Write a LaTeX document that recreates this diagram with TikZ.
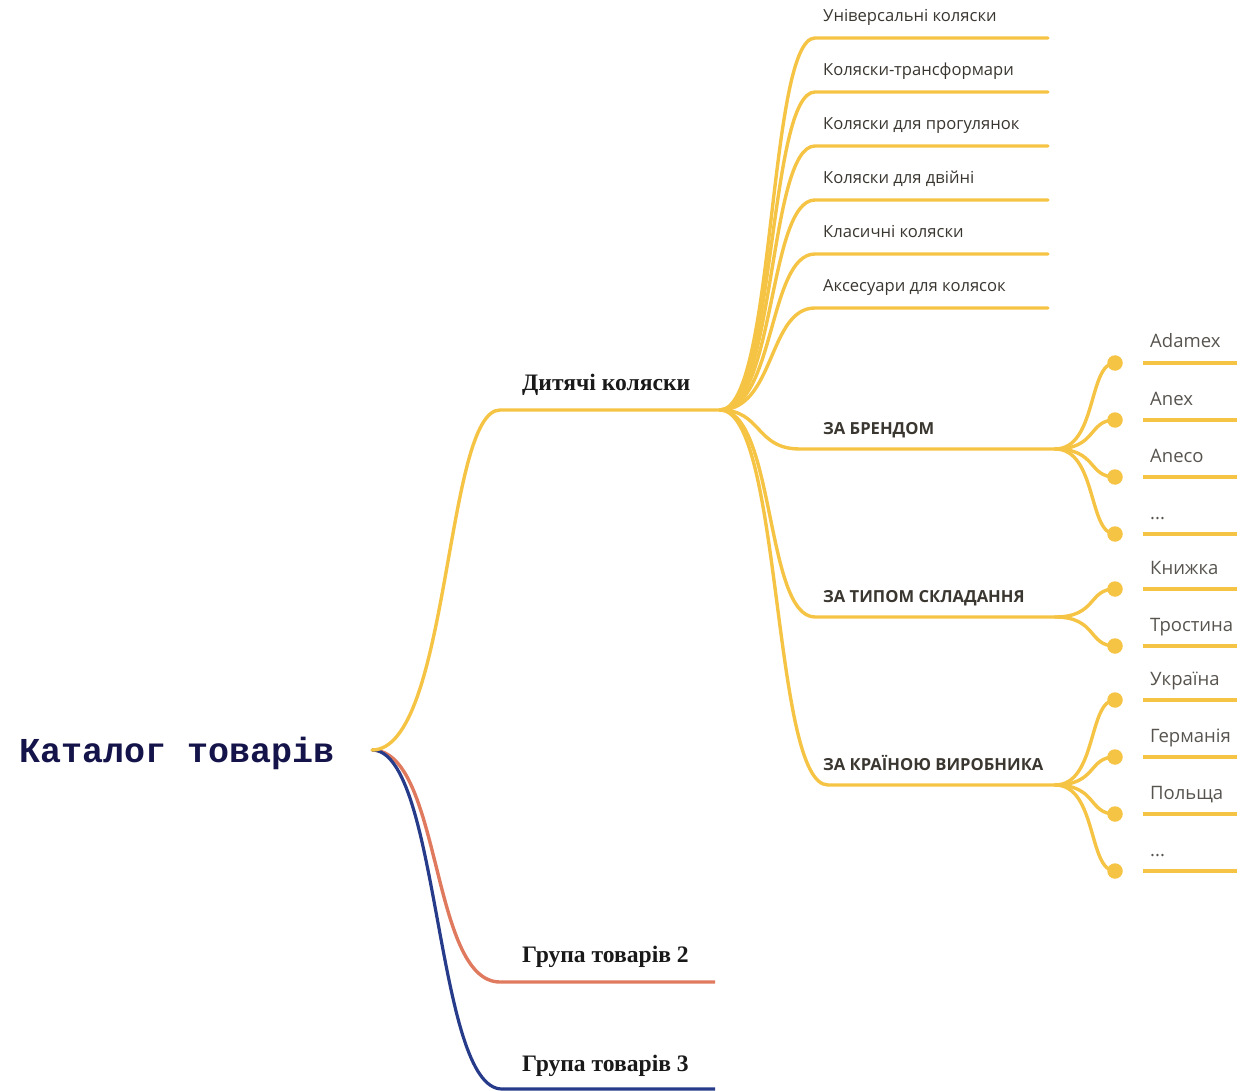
\documentclass[tikz,border=0pt]{standalone}
\usepackage{fontspec}
\setmainfont{Open Sans}
\newfontfamily\rootfont{Liberation Mono}
\newfontfamily\grpfont{Liberation Serif}
\newcommand\mydots{...}
\definecolor{yel}{HTML}{F6C445}
\definecolor{orn}{HTML}{E07A5F}
\definecolor{blu}{HTML}{263B8A}
\definecolor{navy}{HTML}{14144A}
\definecolor{txt}{HTML}{3A3630}
\begin{document}
\begin{tikzpicture}[x=1pt,y=-1pt,
  yl/.style={draw=yel,line width=3.4pt,line cap=round},
  ol/.style={draw=orn,line width=3.4pt},
  bl/.style={draw=blu,line width=3.2pt},
  leafline/.style={draw=yel,line width=4pt},
  dotnode/.style={circle,fill=yel,inner sep=0pt,minimum size=15.5pt},
  leaf/.style={anchor=base west,inner sep=0pt,text=txt,font=\fontsize{16.6}{17}\selectfont},
  cat/.style={anchor=base west,inner sep=0pt,text=txt,font=\bfseries\fontsize{16.6}{17}\selectfont},
  brand/.style={anchor=base west,inner sep=0pt,text=txt!85,font=\fontsize{18.5}{19}\selectfont},
  grp/.style={anchor=base west,inner sep=0pt,text=black!90,font=\grpfont\bfseries\fontsize{23.6}{24}\selectfont}]
\useasboundingbox (0,0) rectangle (1248,1091);
% root
\node[anchor=base west,inner sep=0pt,text=navy,font=\rootfont\bfseries\fontsize{35}{35}\selectfont] (rootlbl) at (19,762) {Каталог товарів};
\coordinate (r) at (372,750);
% main branches
\coordinate (g1s) at (500,410);
\coordinate (hub) at (720,410);
\coordinate (g2s) at (500,982);
\coordinate (g2e) at (715,982);
\coordinate (g3s) at (502,1089);
\coordinate (g3e) at (715,1089);
\draw[ol] (r) .. controls (442,750) and (430,982) .. (g2s) -- (g2e);
\draw[bl] (r) .. controls (440,750) and (435,1089) .. (g3s) -- (g3e);
\draw[yl] (r) .. controls (450,750) and (445,410) .. (g1s) -- (hub);
\node[grp] (g1) at (522,391) {Дитячі коляски};
\node[grp] (g2) at (522,962) {Група товарів 2};
\node[grp] (g3) at (522,1071) {Група товарів 3};
% upper leaves
\foreach \yy/\t [count=\i] in {38/Універсальні коляски,92/Коляски-трансформари,146/Коляски для прогулянок,200/Коляски для двійні,254/Класичні коляски,308/Аксесуари для колясок}{
  \coordinate (us\i) at (815,\yy);
  \coordinate (ue\i) at (1048,\yy);
  \draw[yl] (hub) .. controls (775,410) and (768,\yy) .. (us\i) -- (ue\i);
  \node[leaf] (ul\i) at (823,\yy-16) {\t};
}
% categories
\coordinate (c1s) at (800,449);
\coordinate (c1h) at (1055,449);
\coordinate (c2s) at (815,617);
\coordinate (c2h) at (1055,617);
\coordinate (c3s) at (828,785);
\coordinate (c3h) at (1055,785);
\draw[yl] (hub) .. controls (762,410) and (755,449) .. (c1s) -- (c1h);
\draw[yl] (hub) .. controls (775,410) and (765,617) .. (c2s) -- (c2h);
\draw[yl] (hub) .. controls (782,410) and (772,785) .. (c3s) -- (c3h);
\node[cat] (c1) at (823,434) {ЗА БРЕНДОМ};
\node[cat] (c2) at (823,602) {ЗА ТИПОМ СКЛАДАННЯ};
\node[cat] (c3) at (823,770) {ЗА КРАЇНОЮ ВИРОБНИКА};
% sub leaves
\foreach \hh/\yy/\t/\n in {c1h/363/Adamex/a1,c1h/420/Anex/a2,c1h/477/Aneco/a3,c1h/534/\mydots/a4,
  c2h/589/Книжка/b1,c2h/646/Тростина/b2,
  c3h/700/Україна/d1,c3h/757/Германія/d2,c3h/814/Польща/d3,c3h/871/\mydots/d4}{
  \node[dotnode] (dot\n) at (1115,\yy) {};
  \draw[yl] (\hh) .. controls +(42,0) and (1088,\yy) .. (dot\n.center);
  \coordinate (ls\n) at (1143,\yy);
  \coordinate (le\n) at (1237,\yy);
  \draw[leafline] (ls\n) -- (le\n);
  \node[brand] (t\n) at (1150,\yy-15) {\t};
}
\end{tikzpicture}
\end{document}
